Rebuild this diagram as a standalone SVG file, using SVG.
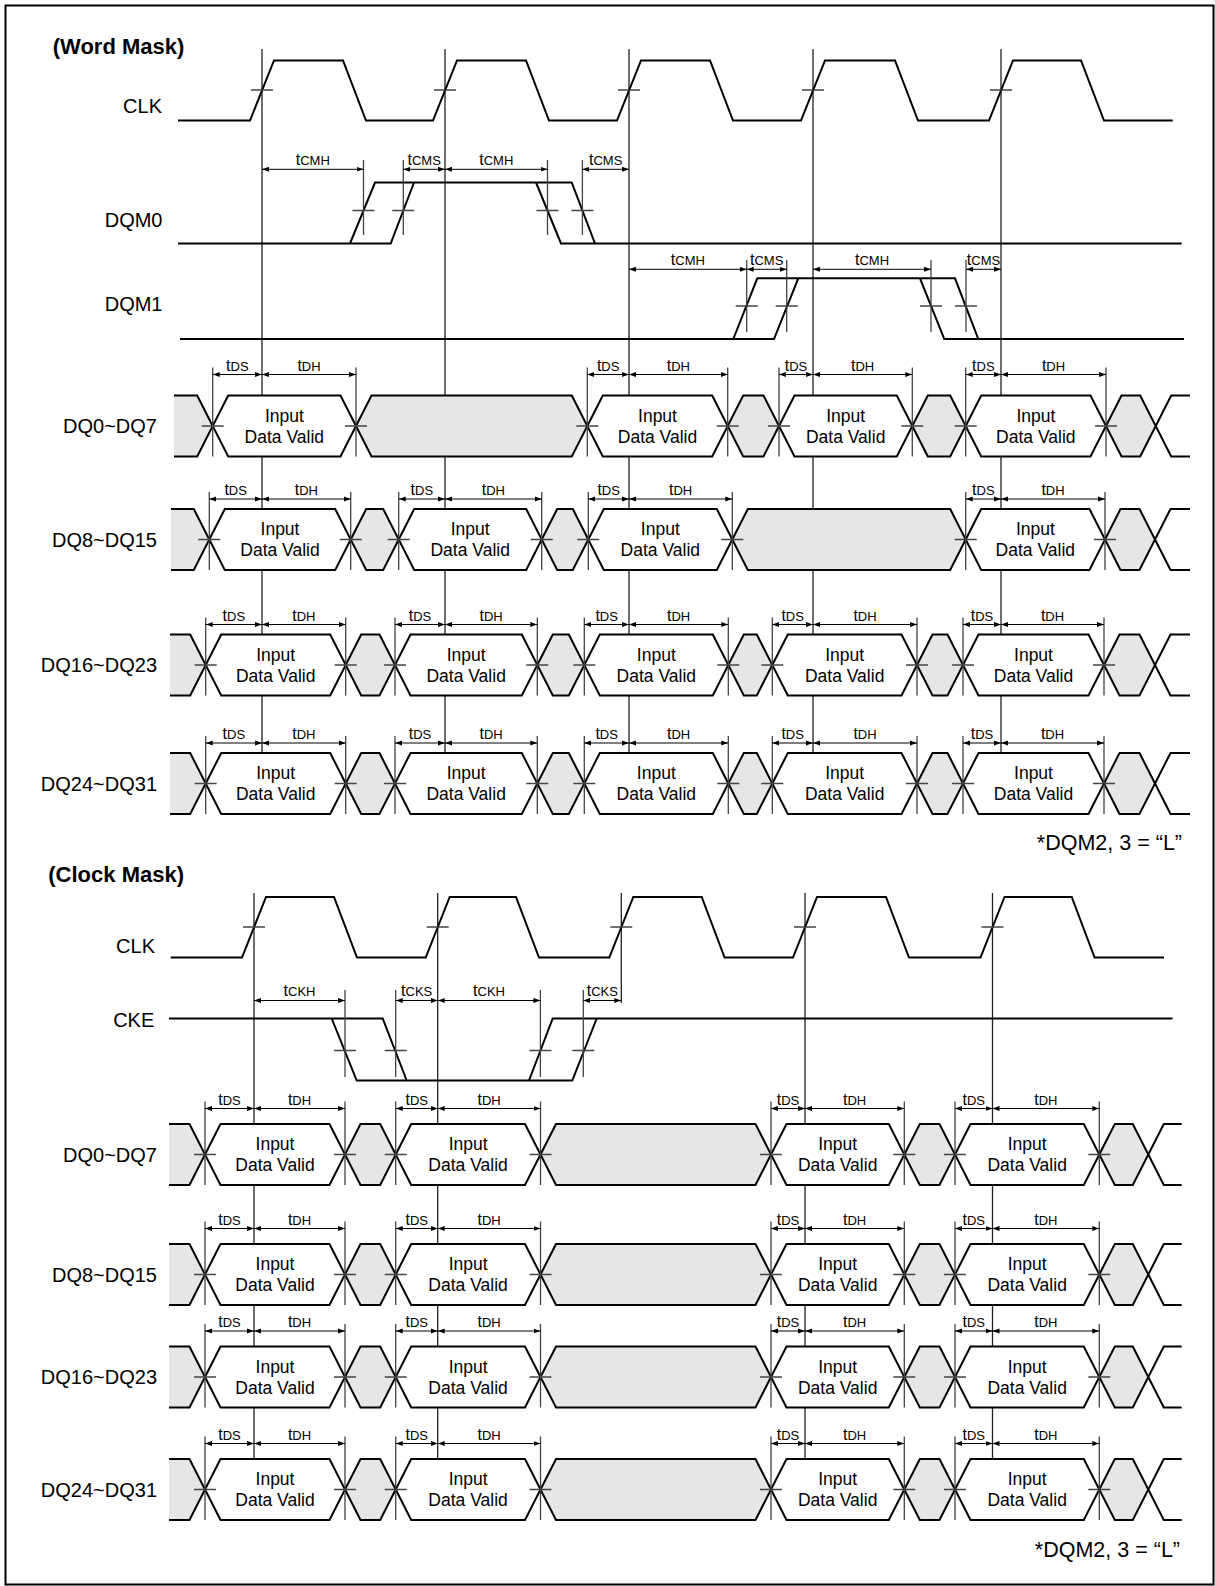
<svg xmlns="http://www.w3.org/2000/svg" width="1215" height="1586" viewBox="0 0 1215 1586">
<style>
.w{fill:none;stroke:#000;stroke-width:2}
.v{fill:#fff;stroke:#000;stroke-width:2}
.s{fill:#e6e6e6;stroke:#000;stroke-width:2}
.ck{fill:none;stroke:#222;stroke-width:1.3}
.mk{fill:none;stroke:#444;stroke-width:1.3}
.tk{fill:none;stroke:#444;stroke-width:1.3}
.dim{stroke:#000;stroke-width:1;marker-start:url(#ah);marker-end:url(#ah)}
text{font-family:"Liberation Sans",Arial,sans-serif;fill:#000}
.lb{font-size:20px;text-anchor:end}
.ttl{font-size:22px;font-weight:bold}
.dv{font-size:17.5px;text-anchor:middle}
.tl{font-size:16px;text-anchor:middle}
.sub{font-size:13px}
.note{font-size:21.5px;text-anchor:end}
</style>
<defs>
<marker id="ah" viewBox="0 0 7 6" refX="7" refY="3" markerWidth="7" markerHeight="6" orient="auto-start-reverse" markerUnits="userSpaceOnUse"><path d="M0,0.5 L7,3 L0,5.5 z" fill="#000"/></marker>
</defs>
<rect x="5.5" y="5.5" width="1208" height="1579" fill="#fff" stroke="#000" stroke-width="2"/>

<!-- clock reference lines -->
<g id="clock-lines">
<path class="ck" d="M262,49V783 M445,49V783 M629,49V783 M813,49V783 M1001,49V783"/>
<path class="ck" d="M254,893V1489 M437.7,893V1489 M621.3,893V1003 M805,893V1489 M992.5,893V1489"/>
</g>

<text class="ttl" x="52.7" y="54">(Word Mask)</text>

<g id="wm-clk">
<text class="lb" x="162" y="113">CLK</text>
<path class="w" d="M178,120.5 H250 L274,60.5 H343 L366,120.5 H433 L457,60.5 H526 L549,120.5 H617 L641,60.5 H710 L733,120.5 H801 L825,60.5 H895 L918,120.5 H989 L1013,60.5 H1081 L1104,120.5 H1172.7"/>
<path class="tk" d="M251,90h22 M434,90h22 M618,90h22 M802,90h22 M990,90h22"/>
</g>

<g id="wm-dqm0">
<text class="lb" x="162.5" y="227">DQM0</text>
<path class="w" d="M178,243.5 H390.7 L414,182.5 M350,243.5 L375,182.5 H571.7 L595,243.5 H1181.7 M536,182.5 L561,243.5 H595"/>
<path class="tk" d="M352.5,210.5h22 M392.3,210.5h22 M536.5,210.5h22 M571.4,210.5h22"/>
<path class="mk" d="M363.5,160V235 M403.3,160V235 M547.5,160V235 M582.4,160V235"/>
<line class="dim" x1="262" y1="169.3" x2="363.5" y2="169.3"/>
<line class="dim" x1="403.3" y1="169.3" x2="445" y2="169.3"/>
<line class="dim" x1="445" y1="169.3" x2="547.5" y2="169.3"/>
<line class="dim" x1="582.4" y1="169.3" x2="629" y2="169.3"/>
<text class="tl" x="312.75" y="164.8">t<tspan class="sub">CMH</tspan></text>
<text class="tl" x="424.15" y="164.8">t<tspan class="sub">CMS</tspan></text>
<text class="tl" x="496.25" y="164.8">t<tspan class="sub">CMH</tspan></text>
<text class="tl" x="605.7" y="164.8">t<tspan class="sub">CMS</tspan></text>
</g>

<g id="wm-dqm1">
<text class="lb" x="162.5" y="311">DQM1</text>
<path class="w" d="M180,339 H774 L798.3,278.3 H955 L978.3,339 H1184 M733.3,339 L757.3,278.3 H798.3 M920,278.3 L944.3,339 H978.3"/>
<path class="tk" d="M735.7,306h22 M775.7,306h22 M920,306h22 M955,306h22"/>
<path class="mk" d="M746.7,260V332 M786.7,260V332 M931,260V332 M966,260V332"/>
<line class="dim" x1="629" y1="269.3" x2="746.7" y2="269.3"/>
<line class="dim" x1="746.7" y1="269.3" x2="786.7" y2="269.3"/>
<line class="dim" x1="813" y1="269.3" x2="931" y2="269.3"/>
<line class="dim" x1="966" y1="269.3" x2="1001" y2="269.3"/>
<text class="tl" x="687.85" y="264.8">t<tspan class="sub">CMH</tspan></text>
<text class="tl" x="766.7" y="264.8">t<tspan class="sub">CMS</tspan></text>
<text class="tl" x="872" y="264.8">t<tspan class="sub">CMH</tspan></text>
<text class="tl" x="983.5" y="264.8">t<tspan class="sub">CMS</tspan></text>
</g>

<g id="wm-dq0" transform="translate(0,395.5)">
<text class="lb" x="157" y="37.5">DQ0~DQ7</text>
<path class="s" d="M174,0 H197.2 L212.7,30.5 L197.2,61 H174"/>
<polygon class="v" points="212.7,30.5 228.2,0 340.5,0 356,30.5 340.5,61 228.2,61"/>
<polygon class="s" points="356,30.5 371.5,0 571.8,0 587.3,30.5 571.8,61 371.5,61"/>
<polygon class="v" points="587.3,30.5 602.8,0 712.2,0 727.7,30.5 712.2,61 602.8,61"/>
<polygon class="s" points="727.7,30.5 743.2,0 763.5,0 779,30.5 763.5,61 743.2,61"/>
<polygon class="v" points="779,30.5 794.5,0 896.8,0 912.3,30.5 896.8,61 794.5,61"/>
<polygon class="s" points="912.3,30.5 927.8,0 950.2,0 965.7,30.5 950.2,61 927.8,61"/>
<polygon class="v" points="965.7,30.5 981.2,0 1090.5,0 1106,30.5 1090.5,61 981.2,61"/>
<polygon class="s" points="1106,30.5 1121.5,0 1140.2,0 1155.7,30.5 1140.2,61 1121.5,61"/>
<path class="w" d="M1155.7,30.5 L1171.2,0 H1190 M1155.7,30.5 L1171.2,61 H1190"/>
<path class="tk" d="M201.7,30.5h22 M345,30.5h22 M576.3,30.5h22 M716.7,30.5h22 M768,30.5h22 M901.3,30.5h22 M954.7,30.5h22 M1095,30.5h22"/>
<path class="mk" d="M212.7,-28V61 M356,-28V61 M587.3,-28V61 M727.7,-28V61 M779,-28V61 M912.3,-28V61 M965.7,-28V61 M1106,-28V61"/>
<line class="dim" x1="212.7" y1="-21" x2="262" y2="-21"/>
<line class="dim" x1="262" y1="-21" x2="356" y2="-21"/>
<line class="dim" x1="587.3" y1="-21" x2="629" y2="-21"/>
<line class="dim" x1="629" y1="-21" x2="727.7" y2="-21"/>
<line class="dim" x1="779" y1="-21" x2="813" y2="-21"/>
<line class="dim" x1="813" y1="-21" x2="912.3" y2="-21"/>
<line class="dim" x1="965.7" y1="-21" x2="1001" y2="-21"/>
<line class="dim" x1="1001" y1="-21" x2="1106" y2="-21"/>
<text class="tl" x="237.35" y="-25">t<tspan class="sub">DS</tspan></text>
<text class="tl" x="309" y="-25">t<tspan class="sub">DH</tspan></text>
<text class="tl" x="608.15" y="-25">t<tspan class="sub">DS</tspan></text>
<text class="tl" x="678.35" y="-25">t<tspan class="sub">DH</tspan></text>
<text class="tl" x="796" y="-25">t<tspan class="sub">DS</tspan></text>
<text class="tl" x="862.65" y="-25">t<tspan class="sub">DH</tspan></text>
<text class="tl" x="983.35" y="-25">t<tspan class="sub">DS</tspan></text>
<text class="tl" x="1053.5" y="-25">t<tspan class="sub">DH</tspan></text>
<text class="dv" x="284.35" y="26">Input</text><text class="dv" x="284.35" y="47">Data Valid</text>
<text class="dv" x="657.5" y="26">Input</text><text class="dv" x="657.5" y="47">Data Valid</text>
<text class="dv" x="845.65" y="26">Input</text><text class="dv" x="845.65" y="47">Data Valid</text>
<text class="dv" x="1035.85" y="26">Input</text><text class="dv" x="1035.85" y="47">Data Valid</text>
</g>

<g id="wm-dq8" transform="translate(0,509)">
<text class="lb" x="157" y="37.5">DQ8~DQ15</text>
<path class="s" d="M171,0 H193.8 L209.3,30.5 L193.8,61 H171"/>
<polygon class="v" points="209.3,30.5 224.8,0 335.2,0 350.7,30.5 335.2,61 224.8,61"/>
<polygon class="s" points="350.7,30.5 366.2,0 383.2,0 398.7,30.5 383.2,61 366.2,61"/>
<polygon class="v" points="398.7,30.5 414.2,0 526.2,0 541.7,30.5 526.2,61 414.2,61"/>
<polygon class="s" points="541.7,30.5 557.2,0 572.8,0 588.3,30.5 572.8,61 557.2,61"/>
<polygon class="v" points="588.3,30.5 603.8,0 716.8,0 732.3,30.5 716.8,61 603.8,61"/>
<polygon class="s" points="732.3,30.5 747.8,0 950.2,0 965.7,30.5 950.2,61 747.8,61"/>
<polygon class="v" points="965.7,30.5 981.2,0 1089.5,0 1105,30.5 1089.5,61 981.2,61"/>
<polygon class="s" points="1105,30.5 1120.5,0 1139.5,0 1155,30.5 1139.5,61 1120.5,61"/>
<path class="w" d="M1155,30.5 L1170.5,0 H1190 M1155,30.5 L1170.5,61 H1190"/>
<path class="tk" d="M198.3,30.5h22 M339.7,30.5h22 M387.7,30.5h22 M530.7,30.5h22 M577.3,30.5h22 M721.3,30.5h22 M954.7,30.5h22 M1094,30.5h22"/>
<path class="mk" d="M209.3,-17V61 M350.7,-17V61 M398.7,-17V61 M541.7,-17V61 M588.3,-17V61 M732.3,-17V61 M965.7,-17V61 M1105,-17V61"/>
<line class="dim" x1="209.3" y1="-10" x2="262" y2="-10"/>
<line class="dim" x1="262" y1="-10" x2="350.7" y2="-10"/>
<line class="dim" x1="398.7" y1="-10" x2="445" y2="-10"/>
<line class="dim" x1="445" y1="-10" x2="541.7" y2="-10"/>
<line class="dim" x1="588.3" y1="-10" x2="629" y2="-10"/>
<line class="dim" x1="629" y1="-10" x2="732.3" y2="-10"/>
<line class="dim" x1="965.7" y1="-10" x2="1001" y2="-10"/>
<line class="dim" x1="1001" y1="-10" x2="1105" y2="-10"/>
<text class="tl" x="235.65" y="-14">t<tspan class="sub">DS</tspan></text>
<text class="tl" x="306.35" y="-14">t<tspan class="sub">DH</tspan></text>
<text class="tl" x="421.85" y="-14">t<tspan class="sub">DS</tspan></text>
<text class="tl" x="493.35" y="-14">t<tspan class="sub">DH</tspan></text>
<text class="tl" x="608.65" y="-14">t<tspan class="sub">DS</tspan></text>
<text class="tl" x="680.65" y="-14">t<tspan class="sub">DH</tspan></text>
<text class="tl" x="983.35" y="-14">t<tspan class="sub">DS</tspan></text>
<text class="tl" x="1053" y="-14">t<tspan class="sub">DH</tspan></text>
<text class="dv" x="280" y="26">Input</text><text class="dv" x="280" y="47">Data Valid</text>
<text class="dv" x="470.2" y="26">Input</text><text class="dv" x="470.2" y="47">Data Valid</text>
<text class="dv" x="660.3" y="26">Input</text><text class="dv" x="660.3" y="47">Data Valid</text>
<text class="dv" x="1035.35" y="26">Input</text><text class="dv" x="1035.35" y="47">Data Valid</text>
</g>

<g id="wm-dq16" transform="translate(0,634.5)">
<text class="lb" x="157" y="37.5">DQ16~DQ23</text>
<path class="s" d="M170,0 H190.2 L205.7,30.5 L190.2,61 H170"/>
<polygon class="v" points="205.7,30.5 221.2,0 330.2,0 345.7,30.5 330.2,61 221.2,61"/>
<polygon class="s" points="345.7,30.5 361.2,0 379.5,0 395,30.5 379.5,61 361.2,61"/>
<polygon class="v" points="395,30.5 410.5,0 521.8,0 537.3,30.5 521.8,61 410.5,61"/>
<polygon class="s" points="537.3,30.5 552.8,0 568.8,0 584.3,30.5 568.8,61 552.8,61"/>
<polygon class="v" points="584.3,30.5 599.8,0 712.8,0 728.3,30.5 712.8,61 599.8,61"/>
<polygon class="s" points="728.3,30.5 743.8,0 756.8,0 772.3,30.5 756.8,61 743.8,61"/>
<polygon class="v" points="772.3,30.5 787.8,0 901.5,0 917,30.5 901.5,61 787.8,61"/>
<polygon class="s" points="917,30.5 932.5,0 947.5,0 963,30.5 947.5,61 932.5,61"/>
<polygon class="v" points="963,30.5 978.5,0 1088.5,0 1104,30.5 1088.5,61 978.5,61"/>
<polygon class="s" points="1104,30.5 1119.5,0 1139.5,0 1155,30.5 1139.5,61 1119.5,61"/>
<path class="w" d="M1155,30.5 L1170.5,0 H1190 M1155,30.5 L1170.5,61 H1190"/>
<path class="tk" d="M194.7,30.5h22 M334.7,30.5h22 M384,30.5h22 M526.3,30.5h22 M573.3,30.5h22 M717.3,30.5h22 M761.3,30.5h22 M906,30.5h22 M952,30.5h22 M1093,30.5h22"/>
<path class="mk" d="M205.7,-17V61 M345.7,-17V61 M395,-17V61 M537.3,-17V61 M584.3,-17V61 M728.3,-17V61 M772.3,-17V61 M917,-17V61 M963,-17V61 M1104,-17V61"/>
<line class="dim" x1="205.7" y1="-10" x2="262" y2="-10"/>
<line class="dim" x1="262" y1="-10" x2="345.7" y2="-10"/>
<line class="dim" x1="395" y1="-10" x2="445" y2="-10"/>
<line class="dim" x1="445" y1="-10" x2="537.3" y2="-10"/>
<line class="dim" x1="584.3" y1="-10" x2="629" y2="-10"/>
<line class="dim" x1="629" y1="-10" x2="728.3" y2="-10"/>
<line class="dim" x1="772.3" y1="-10" x2="813" y2="-10"/>
<line class="dim" x1="813" y1="-10" x2="917" y2="-10"/>
<line class="dim" x1="963" y1="-10" x2="1001" y2="-10"/>
<line class="dim" x1="1001" y1="-10" x2="1104" y2="-10"/>
<text class="tl" x="233.85" y="-14">t<tspan class="sub">DS</tspan></text>
<text class="tl" x="303.85" y="-14">t<tspan class="sub">DH</tspan></text>
<text class="tl" x="420" y="-14">t<tspan class="sub">DS</tspan></text>
<text class="tl" x="491.15" y="-14">t<tspan class="sub">DH</tspan></text>
<text class="tl" x="606.65" y="-14">t<tspan class="sub">DS</tspan></text>
<text class="tl" x="678.65" y="-14">t<tspan class="sub">DH</tspan></text>
<text class="tl" x="792.65" y="-14">t<tspan class="sub">DS</tspan></text>
<text class="tl" x="865" y="-14">t<tspan class="sub">DH</tspan></text>
<text class="tl" x="982" y="-14">t<tspan class="sub">DS</tspan></text>
<text class="tl" x="1052.5" y="-14">t<tspan class="sub">DH</tspan></text>
<text class="dv" x="275.7" y="26">Input</text><text class="dv" x="275.7" y="47">Data Valid</text>
<text class="dv" x="466.15" y="26">Input</text><text class="dv" x="466.15" y="47">Data Valid</text>
<text class="dv" x="656.3" y="26">Input</text><text class="dv" x="656.3" y="47">Data Valid</text>
<text class="dv" x="844.65" y="26">Input</text><text class="dv" x="844.65" y="47">Data Valid</text>
<text class="dv" x="1033.5" y="26">Input</text><text class="dv" x="1033.5" y="47">Data Valid</text>
</g>

<g id="wm-dq24" transform="translate(0,753)">
<text class="lb" x="157" y="37.5">DQ24~DQ31</text>
<path class="s" d="M170,0 H190.2 L205.7,30.5 L190.2,61 H170"/>
<polygon class="v" points="205.7,30.5 221.2,0 330.2,0 345.7,30.5 330.2,61 221.2,61"/>
<polygon class="s" points="345.7,30.5 361.2,0 379.5,0 395,30.5 379.5,61 361.2,61"/>
<polygon class="v" points="395,30.5 410.5,0 521.8,0 537.3,30.5 521.8,61 410.5,61"/>
<polygon class="s" points="537.3,30.5 552.8,0 568.8,0 584.3,30.5 568.8,61 552.8,61"/>
<polygon class="v" points="584.3,30.5 599.8,0 712.8,0 728.3,30.5 712.8,61 599.8,61"/>
<polygon class="s" points="728.3,30.5 743.8,0 756.8,0 772.3,30.5 756.8,61 743.8,61"/>
<polygon class="v" points="772.3,30.5 787.8,0 901.5,0 917,30.5 901.5,61 787.8,61"/>
<polygon class="s" points="917,30.5 932.5,0 947.5,0 963,30.5 947.5,61 932.5,61"/>
<polygon class="v" points="963,30.5 978.5,0 1088.5,0 1104,30.5 1088.5,61 978.5,61"/>
<polygon class="s" points="1104,30.5 1119.5,0 1139.5,0 1155,30.5 1139.5,61 1119.5,61"/>
<path class="w" d="M1155,30.5 L1170.5,0 H1190 M1155,30.5 L1170.5,61 H1190"/>
<path class="tk" d="M194.7,30.5h22 M334.7,30.5h22 M384,30.5h22 M526.3,30.5h22 M573.3,30.5h22 M717.3,30.5h22 M761.3,30.5h22 M906,30.5h22 M952,30.5h22 M1093,30.5h22"/>
<path class="mk" d="M205.7,-17V61 M345.7,-17V61 M395,-17V61 M537.3,-17V61 M584.3,-17V61 M728.3,-17V61 M772.3,-17V61 M917,-17V61 M963,-17V61 M1104,-17V61"/>
<line class="dim" x1="205.7" y1="-10" x2="262" y2="-10"/>
<line class="dim" x1="262" y1="-10" x2="345.7" y2="-10"/>
<line class="dim" x1="395" y1="-10" x2="445" y2="-10"/>
<line class="dim" x1="445" y1="-10" x2="537.3" y2="-10"/>
<line class="dim" x1="584.3" y1="-10" x2="629" y2="-10"/>
<line class="dim" x1="629" y1="-10" x2="728.3" y2="-10"/>
<line class="dim" x1="772.3" y1="-10" x2="813" y2="-10"/>
<line class="dim" x1="813" y1="-10" x2="917" y2="-10"/>
<line class="dim" x1="963" y1="-10" x2="1001" y2="-10"/>
<line class="dim" x1="1001" y1="-10" x2="1104" y2="-10"/>
<text class="tl" x="233.85" y="-14">t<tspan class="sub">DS</tspan></text>
<text class="tl" x="303.85" y="-14">t<tspan class="sub">DH</tspan></text>
<text class="tl" x="420" y="-14">t<tspan class="sub">DS</tspan></text>
<text class="tl" x="491.15" y="-14">t<tspan class="sub">DH</tspan></text>
<text class="tl" x="606.65" y="-14">t<tspan class="sub">DS</tspan></text>
<text class="tl" x="678.65" y="-14">t<tspan class="sub">DH</tspan></text>
<text class="tl" x="792.65" y="-14">t<tspan class="sub">DS</tspan></text>
<text class="tl" x="865" y="-14">t<tspan class="sub">DH</tspan></text>
<text class="tl" x="982" y="-14">t<tspan class="sub">DS</tspan></text>
<text class="tl" x="1052.5" y="-14">t<tspan class="sub">DH</tspan></text>
<text class="dv" x="275.7" y="26">Input</text><text class="dv" x="275.7" y="47">Data Valid</text>
<text class="dv" x="466.15" y="26">Input</text><text class="dv" x="466.15" y="47">Data Valid</text>
<text class="dv" x="656.3" y="26">Input</text><text class="dv" x="656.3" y="47">Data Valid</text>
<text class="dv" x="844.65" y="26">Input</text><text class="dv" x="844.65" y="47">Data Valid</text>
<text class="dv" x="1033.5" y="26">Input</text><text class="dv" x="1033.5" y="47">Data Valid</text>
</g>

<text class="note" x="1182" y="850">*DQM2, 3 = “L”</text>

<text class="ttl" x="48.3" y="882">(Clock Mask)</text>

<g id="cm-clk">
<text class="lb" x="155" y="952.7">CLK</text>
<path class="w" d="M170.7,957.5 H242 L266,897 H334 L357,957.5 H425.7 L449.7,897 H516 L539,957.5 H609.3 L633.3,897 H701.7 L724.6,957.5 H793 L817,897 H886 L909,957.5 H980.5 L1004.5,897 H1071.7 L1094.6,957.5 H1164"/>
<path class="tk" d="M243,927h22 M426.7,927h22 M610.3,927h22 M794,927h22 M981.5,927h22"/>
</g>

<g id="cm-cke">
<text class="lb" x="154.3" y="1027">CKE</text>
<path class="w" d="M169,1018.5 H382.7 L406.7,1080.5 M331.7,1018.5 L356.7,1080.5 H572.3 L596.7,1018.5 M529,1080.5 L552.7,1018.5 H1172.5"/>
<path class="tk" d="M334,1050.5h22 M384.7,1050.5h22 M529.4,1050.5h22 M572.3,1050.5h22"/>
<path class="mk" d="M345,990V1077 M395.7,990V1077 M540.4,990V1077 M583.3,990V1077"/>
<line class="dim" x1="254" y1="1000.5" x2="345" y2="1000.5"/>
<line class="dim" x1="395.7" y1="1000.5" x2="437.7" y2="1000.5"/>
<line class="dim" x1="437.7" y1="1000.5" x2="540.4" y2="1000.5"/>
<line class="dim" x1="583.3" y1="1000.5" x2="621.3" y2="1000.5"/>
<text class="tl" x="299.5" y="995.5">t<tspan class="sub">CKH</tspan></text>
<text class="tl" x="416.7" y="995.5">t<tspan class="sub">CKS</tspan></text>
<text class="tl" x="489.05" y="995.5">t<tspan class="sub">CKH</tspan></text>
<text class="tl" x="602.3" y="995.5">t<tspan class="sub">CKS</tspan></text>
</g>

<g id="cm-dq0" transform="translate(0,1124)">
<text class="lb" x="157" y="37.5">DQ0~DQ7</text>
<path class="s" d="M169,0 H189.5 L205,30.5 L189.5,61 H169"/>
<polygon class="v" points="205,30.5 220.5,0 329.5,0 345,30.5 329.5,61 220.5,61"/>
<polygon class="s" points="345,30.5 360.5,0 380.2,0 395.7,30.5 380.2,61 360.5,61"/>
<polygon class="v" points="395.7,30.5 411.2,0 525,0 540.5,30.5 525,61 411.2,61"/>
<polygon class="s" points="540.5,30.5 556,0 755.5,0 771,30.5 755.5,61 556,61"/>
<polygon class="v" points="771,30.5 786.5,0 888.8,0 904.3,30.5 888.8,61 786.5,61"/>
<polygon class="s" points="904.3,30.5 919.8,0 939.5,0 955,30.5 939.5,61 919.8,61"/>
<polygon class="v" points="955,30.5 970.5,0 1083.8,0 1099.3,30.5 1083.8,61 970.5,61"/>
<polygon class="s" points="1099.3,30.5 1114.8,0 1132.8,0 1148.3,30.5 1132.8,61 1114.8,61"/>
<path class="w" d="M1148.3,30.5 L1163.8,0 H1181.7 M1148.3,30.5 L1163.8,61 H1181.7"/>
<path class="tk" d="M194,30.5h22 M334,30.5h22 M384.7,30.5h22 M529.5,30.5h22 M760,30.5h22 M893.3,30.5h22 M944,30.5h22 M1088.3,30.5h22"/>
<path class="mk" d="M205,-22.5V61 M345,-22.5V61 M395.7,-22.5V61 M540.5,-22.5V61 M771,-22.5V61 M904.3,-22.5V61 M955,-22.5V61 M1099.3,-22.5V61"/>
<line class="dim" x1="205" y1="-15.5" x2="254" y2="-15.5"/>
<line class="dim" x1="254" y1="-15.5" x2="345" y2="-15.5"/>
<line class="dim" x1="395.7" y1="-15.5" x2="437.7" y2="-15.5"/>
<line class="dim" x1="437.7" y1="-15.5" x2="540.5" y2="-15.5"/>
<line class="dim" x1="771" y1="-15.5" x2="805" y2="-15.5"/>
<line class="dim" x1="805" y1="-15.5" x2="904.3" y2="-15.5"/>
<line class="dim" x1="955" y1="-15.5" x2="992.5" y2="-15.5"/>
<line class="dim" x1="992.5" y1="-15.5" x2="1099.3" y2="-15.5"/>
<text class="tl" x="229.5" y="-19.5">t<tspan class="sub">DS</tspan></text>
<text class="tl" x="299.5" y="-19.5">t<tspan class="sub">DH</tspan></text>
<text class="tl" x="416.7" y="-19.5">t<tspan class="sub">DS</tspan></text>
<text class="tl" x="489.1" y="-19.5">t<tspan class="sub">DH</tspan></text>
<text class="tl" x="788" y="-19.5">t<tspan class="sub">DS</tspan></text>
<text class="tl" x="854.65" y="-19.5">t<tspan class="sub">DH</tspan></text>
<text class="tl" x="973.75" y="-19.5">t<tspan class="sub">DS</tspan></text>
<text class="tl" x="1045.9" y="-19.5">t<tspan class="sub">DH</tspan></text>
<text class="dv" x="275" y="26">Input</text><text class="dv" x="275" y="47">Data Valid</text>
<text class="dv" x="468.1" y="26">Input</text><text class="dv" x="468.1" y="47">Data Valid</text>
<text class="dv" x="837.65" y="26">Input</text><text class="dv" x="837.65" y="47">Data Valid</text>
<text class="dv" x="1027.15" y="26">Input</text><text class="dv" x="1027.15" y="47">Data Valid</text>
</g>

<g id="cm-dq8" transform="translate(0,1244)">
<text class="lb" x="157" y="37.5">DQ8~DQ15</text>
<path class="s" d="M169,0 H189.5 L205,30.5 L189.5,61 H169"/>
<polygon class="v" points="205,30.5 220.5,0 329.5,0 345,30.5 329.5,61 220.5,61"/>
<polygon class="s" points="345,30.5 360.5,0 380.2,0 395.7,30.5 380.2,61 360.5,61"/>
<polygon class="v" points="395.7,30.5 411.2,0 525,0 540.5,30.5 525,61 411.2,61"/>
<polygon class="s" points="540.5,30.5 556,0 755.5,0 771,30.5 755.5,61 556,61"/>
<polygon class="v" points="771,30.5 786.5,0 888.8,0 904.3,30.5 888.8,61 786.5,61"/>
<polygon class="s" points="904.3,30.5 919.8,0 939.5,0 955,30.5 939.5,61 919.8,61"/>
<polygon class="v" points="955,30.5 970.5,0 1083.8,0 1099.3,30.5 1083.8,61 970.5,61"/>
<polygon class="s" points="1099.3,30.5 1114.8,0 1132.8,0 1148.3,30.5 1132.8,61 1114.8,61"/>
<path class="w" d="M1148.3,30.5 L1163.8,0 H1181.7 M1148.3,30.5 L1163.8,61 H1181.7"/>
<path class="tk" d="M194,30.5h22 M334,30.5h22 M384.7,30.5h22 M529.5,30.5h22 M760,30.5h22 M893.3,30.5h22 M944,30.5h22 M1088.3,30.5h22"/>
<path class="mk" d="M205,-22.5V61 M345,-22.5V61 M395.7,-22.5V61 M540.5,-22.5V61 M771,-22.5V61 M904.3,-22.5V61 M955,-22.5V61 M1099.3,-22.5V61"/>
<line class="dim" x1="205" y1="-15.5" x2="254" y2="-15.5"/>
<line class="dim" x1="254" y1="-15.5" x2="345" y2="-15.5"/>
<line class="dim" x1="395.7" y1="-15.5" x2="437.7" y2="-15.5"/>
<line class="dim" x1="437.7" y1="-15.5" x2="540.5" y2="-15.5"/>
<line class="dim" x1="771" y1="-15.5" x2="805" y2="-15.5"/>
<line class="dim" x1="805" y1="-15.5" x2="904.3" y2="-15.5"/>
<line class="dim" x1="955" y1="-15.5" x2="992.5" y2="-15.5"/>
<line class="dim" x1="992.5" y1="-15.5" x2="1099.3" y2="-15.5"/>
<text class="tl" x="229.5" y="-19.5">t<tspan class="sub">DS</tspan></text>
<text class="tl" x="299.5" y="-19.5">t<tspan class="sub">DH</tspan></text>
<text class="tl" x="416.7" y="-19.5">t<tspan class="sub">DS</tspan></text>
<text class="tl" x="489.1" y="-19.5">t<tspan class="sub">DH</tspan></text>
<text class="tl" x="788" y="-19.5">t<tspan class="sub">DS</tspan></text>
<text class="tl" x="854.65" y="-19.5">t<tspan class="sub">DH</tspan></text>
<text class="tl" x="973.75" y="-19.5">t<tspan class="sub">DS</tspan></text>
<text class="tl" x="1045.9" y="-19.5">t<tspan class="sub">DH</tspan></text>
<text class="dv" x="275" y="26">Input</text><text class="dv" x="275" y="47">Data Valid</text>
<text class="dv" x="468.1" y="26">Input</text><text class="dv" x="468.1" y="47">Data Valid</text>
<text class="dv" x="837.65" y="26">Input</text><text class="dv" x="837.65" y="47">Data Valid</text>
<text class="dv" x="1027.15" y="26">Input</text><text class="dv" x="1027.15" y="47">Data Valid</text>
</g>

<g id="cm-dq16" transform="translate(0,1346.5)">
<text class="lb" x="157" y="37.5">DQ16~DQ23</text>
<path class="s" d="M169,0 H189.5 L205,30.5 L189.5,61 H169"/>
<polygon class="v" points="205,30.5 220.5,0 329.5,0 345,30.5 329.5,61 220.5,61"/>
<polygon class="s" points="345,30.5 360.5,0 380.2,0 395.7,30.5 380.2,61 360.5,61"/>
<polygon class="v" points="395.7,30.5 411.2,0 525,0 540.5,30.5 525,61 411.2,61"/>
<polygon class="s" points="540.5,30.5 556,0 755.5,0 771,30.5 755.5,61 556,61"/>
<polygon class="v" points="771,30.5 786.5,0 888.8,0 904.3,30.5 888.8,61 786.5,61"/>
<polygon class="s" points="904.3,30.5 919.8,0 939.5,0 955,30.5 939.5,61 919.8,61"/>
<polygon class="v" points="955,30.5 970.5,0 1083.8,0 1099.3,30.5 1083.8,61 970.5,61"/>
<polygon class="s" points="1099.3,30.5 1114.8,0 1132.8,0 1148.3,30.5 1132.8,61 1114.8,61"/>
<path class="w" d="M1148.3,30.5 L1163.8,0 H1181.7 M1148.3,30.5 L1163.8,61 H1181.7"/>
<path class="tk" d="M194,30.5h22 M334,30.5h22 M384.7,30.5h22 M529.5,30.5h22 M760,30.5h22 M893.3,30.5h22 M944,30.5h22 M1088.3,30.5h22"/>
<path class="mk" d="M205,-22.5V61 M345,-22.5V61 M395.7,-22.5V61 M540.5,-22.5V61 M771,-22.5V61 M904.3,-22.5V61 M955,-22.5V61 M1099.3,-22.5V61"/>
<line class="dim" x1="205" y1="-15.5" x2="254" y2="-15.5"/>
<line class="dim" x1="254" y1="-15.5" x2="345" y2="-15.5"/>
<line class="dim" x1="395.7" y1="-15.5" x2="437.7" y2="-15.5"/>
<line class="dim" x1="437.7" y1="-15.5" x2="540.5" y2="-15.5"/>
<line class="dim" x1="771" y1="-15.5" x2="805" y2="-15.5"/>
<line class="dim" x1="805" y1="-15.5" x2="904.3" y2="-15.5"/>
<line class="dim" x1="955" y1="-15.5" x2="992.5" y2="-15.5"/>
<line class="dim" x1="992.5" y1="-15.5" x2="1099.3" y2="-15.5"/>
<text class="tl" x="229.5" y="-19.5">t<tspan class="sub">DS</tspan></text>
<text class="tl" x="299.5" y="-19.5">t<tspan class="sub">DH</tspan></text>
<text class="tl" x="416.7" y="-19.5">t<tspan class="sub">DS</tspan></text>
<text class="tl" x="489.1" y="-19.5">t<tspan class="sub">DH</tspan></text>
<text class="tl" x="788" y="-19.5">t<tspan class="sub">DS</tspan></text>
<text class="tl" x="854.65" y="-19.5">t<tspan class="sub">DH</tspan></text>
<text class="tl" x="973.75" y="-19.5">t<tspan class="sub">DS</tspan></text>
<text class="tl" x="1045.9" y="-19.5">t<tspan class="sub">DH</tspan></text>
<text class="dv" x="275" y="26">Input</text><text class="dv" x="275" y="47">Data Valid</text>
<text class="dv" x="468.1" y="26">Input</text><text class="dv" x="468.1" y="47">Data Valid</text>
<text class="dv" x="837.65" y="26">Input</text><text class="dv" x="837.65" y="47">Data Valid</text>
<text class="dv" x="1027.15" y="26">Input</text><text class="dv" x="1027.15" y="47">Data Valid</text>
</g>

<g id="cm-dq24" transform="translate(0,1459)">
<text class="lb" x="157" y="37.5">DQ24~DQ31</text>
<path class="s" d="M169,0 H189.5 L205,30.5 L189.5,61 H169"/>
<polygon class="v" points="205,30.5 220.5,0 329.5,0 345,30.5 329.5,61 220.5,61"/>
<polygon class="s" points="345,30.5 360.5,0 380.2,0 395.7,30.5 380.2,61 360.5,61"/>
<polygon class="v" points="395.7,30.5 411.2,0 525,0 540.5,30.5 525,61 411.2,61"/>
<polygon class="s" points="540.5,30.5 556,0 755.5,0 771,30.5 755.5,61 556,61"/>
<polygon class="v" points="771,30.5 786.5,0 888.8,0 904.3,30.5 888.8,61 786.5,61"/>
<polygon class="s" points="904.3,30.5 919.8,0 939.5,0 955,30.5 939.5,61 919.8,61"/>
<polygon class="v" points="955,30.5 970.5,0 1083.8,0 1099.3,30.5 1083.8,61 970.5,61"/>
<polygon class="s" points="1099.3,30.5 1114.8,0 1132.8,0 1148.3,30.5 1132.8,61 1114.8,61"/>
<path class="w" d="M1148.3,30.5 L1163.8,0 H1181.7 M1148.3,30.5 L1163.8,61 H1181.7"/>
<path class="tk" d="M194,30.5h22 M334,30.5h22 M384.7,30.5h22 M529.5,30.5h22 M760,30.5h22 M893.3,30.5h22 M944,30.5h22 M1088.3,30.5h22"/>
<path class="mk" d="M205,-22.5V61 M345,-22.5V61 M395.7,-22.5V61 M540.5,-22.5V61 M771,-22.5V61 M904.3,-22.5V61 M955,-22.5V61 M1099.3,-22.5V61"/>
<line class="dim" x1="205" y1="-15.5" x2="254" y2="-15.5"/>
<line class="dim" x1="254" y1="-15.5" x2="345" y2="-15.5"/>
<line class="dim" x1="395.7" y1="-15.5" x2="437.7" y2="-15.5"/>
<line class="dim" x1="437.7" y1="-15.5" x2="540.5" y2="-15.5"/>
<line class="dim" x1="771" y1="-15.5" x2="805" y2="-15.5"/>
<line class="dim" x1="805" y1="-15.5" x2="904.3" y2="-15.5"/>
<line class="dim" x1="955" y1="-15.5" x2="992.5" y2="-15.5"/>
<line class="dim" x1="992.5" y1="-15.5" x2="1099.3" y2="-15.5"/>
<text class="tl" x="229.5" y="-19.5">t<tspan class="sub">DS</tspan></text>
<text class="tl" x="299.5" y="-19.5">t<tspan class="sub">DH</tspan></text>
<text class="tl" x="416.7" y="-19.5">t<tspan class="sub">DS</tspan></text>
<text class="tl" x="489.1" y="-19.5">t<tspan class="sub">DH</tspan></text>
<text class="tl" x="788" y="-19.5">t<tspan class="sub">DS</tspan></text>
<text class="tl" x="854.65" y="-19.5">t<tspan class="sub">DH</tspan></text>
<text class="tl" x="973.75" y="-19.5">t<tspan class="sub">DS</tspan></text>
<text class="tl" x="1045.9" y="-19.5">t<tspan class="sub">DH</tspan></text>
<text class="dv" x="275" y="26">Input</text><text class="dv" x="275" y="47">Data Valid</text>
<text class="dv" x="468.1" y="26">Input</text><text class="dv" x="468.1" y="47">Data Valid</text>
<text class="dv" x="837.65" y="26">Input</text><text class="dv" x="837.65" y="47">Data Valid</text>
<text class="dv" x="1027.15" y="26">Input</text><text class="dv" x="1027.15" y="47">Data Valid</text>
</g>

<text class="note" x="1180" y="1556.5">*DQM2, 3 = “L”</text>
</svg>
